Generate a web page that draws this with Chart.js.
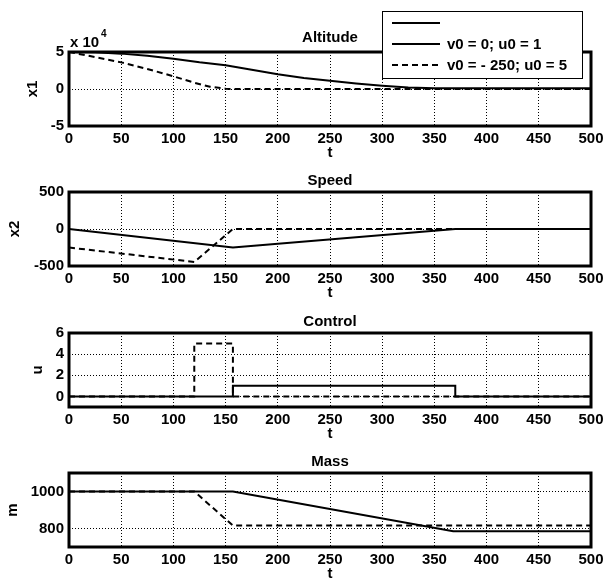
<!DOCTYPE html>
<html>
<head>
<meta charset="utf-8">
<script src="https://cdn.jsdelivr.net/npm/chart.js@4.4.1/dist/chart.umd.min.js"></script>
<style>
  body { margin: 0; background: #fff; overflow: hidden; }
  #wrap { position: relative; width: 603px; height: 583px; overflow: hidden; }
  .panel { position: absolute; left: 0; width: 603px; height: 162px; }
</style>
</head>
<body>
<div id="wrap">
  <div class="panel" style="top:2px"><canvas id="c0" width="603" height="162"></canvas></div>
  <div class="panel" style="top:142px"><canvas id="c1" width="603" height="162"></canvas></div>
  <div class="panel" style="top:283px"><canvas id="c2" width="603" height="162"></canvas></div>
  <div class="panel" style="top:423px"><canvas id="c3" width="603" height="162"></canvas></div>
</div>
<script>
// time axis
const xTicks = [0, 50, 100, 150, 200, 250, 300, 350, 400, 450, 500];

// legend (first entry has no text in the original)
const legendLabels = ['', 'v0 = 0; u0 = 1', 'v0 = - 250; u0 = 5'];
const legendDash = [[], [], [6, 4]];

// Altitude x1 (m), shown as x 10^4
const altSolidT = [0, 25, 50, 75, 100, 125, 150, 175, 200, 225, 250, 275, 300, 325, 350, 500];
const altSolid = [50000, 49500, 47800, 45000, 40800, 36000, 32000, 26000, 20000, 15000, 11000, 7500, 4500, 2000, 1000, 1000];
const altDashT = [0, 25, 50, 75, 100, 120, 135, 150, 157, 500];
const altDash = [50000, 43200, 36000, 27000, 17200, 8500, 3000, 500, 0, 0];
const altTicks = [-50000, 0, 50000];

// Speed x2
const speedSolidT = [0, 157, 370, 500];
const speedSolid = [0, -250, 0, 0];
const speedDashT = [0, 120, 157, 500];
const speedDash = [-250, -445, 0, 0];
const speedTicks = [-500, 0, 500];

// Control u
const ctrlSolidT = [0, 157, 157, 370, 370, 500];
const ctrlSolid = [0, 0, 1, 1, 0, 0];
const ctrlDashT = [0, 120, 120, 157, 157, 500];
const ctrlDash = [0, 0, 5, 5, 0, 0];
const ctrlTicks = [0, 2, 4, 6];

// Mass m
const massSolidT = [0, 157, 368, 500];
const massSolid = [1000, 1000, 785, 785];
const massDashT = [0, 120, 157, 500];
const massDash = [1000, 1000, 816, 816];
const massTicks = [800, 1000];

Chart.defaults.font.family = '"Liberation Sans", Arial, sans-serif';
Chart.defaults.font.weight = 'bold';
Chart.defaults.font.size = 15;
Chart.defaults.color = '#000';

const pts = (t, v) => t.map((x, i) => ({ x: x, y: v[i] }));

// thick axes box like matlab
const boxPlugin = {
    id: 'box',
    afterDatasetsDraw(chart) {
        const { ctx, chartArea: a } = chart;
        ctx.save();
        ctx.strokeStyle = '#000';
        ctx.lineWidth = 3;
        ctx.strokeRect(a.left, a.top, a.right - a.left, a.bottom - a.top);
        ctx.restore();
    }
};

// "x 10^4" exponent label for altitude
const expPlugin = {
    id: 'exp',
    afterDraw(chart) {
        const ctx = chart.ctx;
        ctx.save();
        ctx.fillStyle = '#000';
        ctx.textBaseline = 'alphabetic';
        ctx.font = 'bold 15px "Liberation Sans", Arial, sans-serif';
        ctx.fillText('x 10', 70, 45);
        ctx.font = 'bold 10px "Liberation Sans", Arial, sans-serif';
        ctx.fillText('4', 101, 35);
        ctx.restore();
    }
};

// legend box in the top right corner
const legendPlugin = {
    id: 'boxLegend',
    afterDraw(chart) {
        const ctx = chart.ctx;
        ctx.save();
        ctx.fillStyle = '#fff';
        ctx.fillRect(382, 9, 200, 67);
        ctx.strokeStyle = '#000';
        ctx.lineWidth = 1;
        ctx.strokeRect(382.5, 9.5, 200, 67);
        ctx.font = 'bold 15px "Liberation Sans", Arial, sans-serif';
        ctx.textBaseline = 'middle';
        legendLabels.forEach((lab, i) => {
            const y = 21 + i * 21;
            ctx.beginPath();
            ctx.lineWidth = 2;
            ctx.setLineDash(legendDash[i]);
            ctx.moveTo(392, y);
            ctx.lineTo(440, y);
            ctx.stroke();
            ctx.setLineDash([]);
            ctx.fillStyle = '#000';
            ctx.fillText(lab, 447, y + 1);
        });
        ctx.restore();
    }
};

function makePanel(id, p) {
    return new Chart(document.getElementById(id), {
        type: 'line',
        data: {
            datasets: [
                {
                    data: pts(p.solidT, p.solid),
                    borderColor: '#000', borderWidth: 2, pointRadius: 0, tension: 0, fill: false
                },
                {
                    data: pts(p.dashT, p.dash),
                    borderColor: '#000', borderWidth: 2, borderDash: [6, 4], pointRadius: 0, tension: 0, fill: false
                }
            ]
        },
        options: {
            responsive: false,
            animation: false,
            events: [],
            layout: { padding: { left: 0, right: 12, top: 0, bottom: 0 } },
            plugins: {
                legend: { display: false },
                tooltip: { enabled: false },
                title: {
                    display: true,
                    fullSize: false,
                    text: p.title,
                    color: '#000',
                    font: { size: 15, weight: 'bold' },
                    padding: { top: p.titlePad[0], bottom: p.titlePad[1] }
                }
            },
            scales: {
                x: {
                    type: 'linear',
                    min: 0,
                    max: 500,
                    afterBuildTicks: s => { s.ticks = xTicks.map(v => ({ value: v })); },
                    afterFit: s => { s.height = 38; s.paddingLeft = 0; s.paddingRight = 0; },
                    grid: { color: '#000', lineWidth: 1, drawTicks: false },
                    border: { display: false, dash: [1, 2] },
                    ticks: { padding: 4, maxRotation: 0, color: '#000' },
                    title: { display: true, text: 't', color: '#000', padding: { top: 0, bottom: 2 } }
                },
                y: {
                    min: p.min,
                    max: p.max,
                    afterBuildTicks: s => { s.ticks = p.ticks.map(v => ({ value: v })); },
                    afterFit: s => { s.width = 69; s.paddingTop = 0; s.paddingBottom = 0; },
                    grid: { color: '#000', lineWidth: 1, drawTicks: false },
                    border: { display: false, dash: [1, 2] },
                    ticks: { padding: 5, color: '#000', callback: p.fmt || (v => v) },
                    title: { display: true, text: p.yLabel, color: '#000', padding: { top: p.yPad, bottom: 0 } }
                }
            }
        },
        plugins: [boxPlugin].concat(p.extra || [])
    });
}

makePanel('c0', {
    title: 'Altitude', titlePad: [27, 5], yLabel: 'x1', yPad: 24,
    solidT: altSolidT, solid: altSolid, dashT: altDashT, dash: altDash,
    min: -50000, max: 50000, ticks: altTicks, fmt: v => v / 10000,
    extra: [expPlugin, legendPlugin]
});
makePanel('c1', {
    title: 'Speed', titlePad: [30, 2], yLabel: 'x2', yPad: 6,
    solidT: speedSolidT, solid: speedSolid, dashT: speedDashT, dash: speedDash,
    min: -500, max: 500, ticks: speedTicks
});
makePanel('c2', {
    title: 'Control', titlePad: [30, 2], yLabel: 'u', yPad: 29,
    solidT: ctrlSolidT, solid: ctrlSolid, dashT: ctrlDashT, dash: ctrlDash,
    min: -1, max: 6, ticks: ctrlTicks
});
makePanel('c3', {
    title: 'Mass', titlePad: [30, 2], yLabel: 'm', yPad: 4,
    solidT: massSolidT, solid: massSolid, dashT: massDashT, dash: massDash,
    min: 700, max: 1100, ticks: massTicks
});
</script>
</body>
</html>
